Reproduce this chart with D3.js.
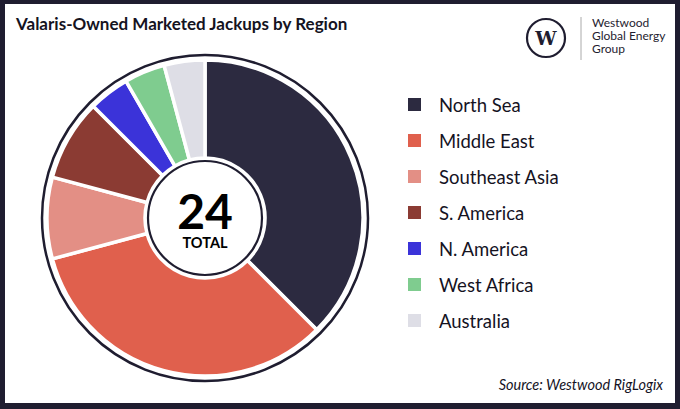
<!DOCTYPE html>
<html><head><meta charset="utf-8">
<script src="https://cdn.jsdelivr.net/npm/d3@7"></script>
<style>html,body{margin:0;padding:0;background:#fff;}svg{display:block;}</style>
</head><body>
<svg id="c" width="680" height="409"></svg>
<script>
const categories = ["North Sea","Middle East","Southeast Asia","S. America","N. America","West Africa","Australia"];
const values = [9, 8, 2, 2, 1, 1, 1];
const colors = ["#2c2a40","#e0604d","#e38f85","#8b3b33","#3b33d9","#7fcc8f","#dedee6"];
const totalLabel = "TOTAL";
const logoLines = ["Westwood","Global Energy","Group"];

const svg = d3.select("#c");
const W = 680, H = 409;
// frame
svg.append("rect").attr("x",0).attr("y",0).attr("width",W).attr("height",H).attr("fill","#1f1d30");
svg.append("rect").attr("x",5).attr("y",4).attr("width",670).attr("height",399).attr("fill","#fff");

svg.append("text").attr("x",16).attr("y",30).text("Valaris-Owned Marketed Jackups by Region")
  .attr("font-family","Lato").attr("font-weight","bold").attr("font-size",17).attr("fill","#15131f");

// logo
const lg = svg.append("g");
lg.append("circle").attr("cx",546).attr("cy",38).attr("r",19).attr("fill","none").attr("stroke","#1f1d30").attr("stroke-width",2.2);
lg.append("text").attr("x",546).attr("y",45).attr("text-anchor","middle").text("W")
  .attr("font-family","DejaVu Serif").attr("font-weight","bold").attr("font-size",19).attr("fill","#1f1d30");
lg.append("line").attr("x1",581).attr("x2",581).attr("y1",17).attr("y2",60).attr("stroke","#aaa").attr("stroke-width",1);
logoLines.forEach((t,i)=>{
  lg.append("text").attr("x",592).attr("y",27+i*13).text(t)
   .attr("font-family","Lato").attr("font-size",12).attr("fill","#1f1d30");
});

const cx = 205, cy = 218;
const g = svg.append("g").attr("transform",`translate(${cx},${cy})`);
g.append("circle").attr("r",163).attr("fill","none").attr("stroke","#1f1d30").attr("stroke-width",2.5);
const pie = d3.pie().sort(null).value(d=>d);
const arc = d3.arc().innerRadius(60).outerRadius(158);
g.selectAll("path.s").data(pie(values)).join("path").attr("class","s")
  .attr("d",arc).attr("fill",(d,i)=>colors[i]).attr("stroke","#fff").attr("stroke-width",3.5).attr("stroke-linejoin","round");
g.append("circle").attr("r",57).attr("fill","#fff").attr("stroke","#1f1d30").attr("stroke-width",2.2);
g.append("text").attr("y",11).attr("text-anchor","middle").text(d3.sum(values))
  .attr("font-family","Lato").attr("font-weight","bold").attr("font-size",48).attr("fill","#000");
g.append("text").attr("y",30).attr("text-anchor","middle").text(totalLabel)
  .attr("font-family","Lato").attr("font-weight","bold").attr("font-size",14.5).attr("fill","#000");

// legend
const y = d3.scalePoint().domain(categories).range([105,321]);
const leg = svg.append("g");
categories.forEach((c,i)=>{
  leg.append("rect").attr("x",408).attr("y",y(c)-7).attr("width",13).attr("height",13).attr("fill",colors[i]);
  leg.append("text").attr("x",439).attr("y",y(c)+6.5).text(c)
    .attr("font-family","Lato").attr("font-size",18.5).attr("fill","#15131f");
});

svg.append("text").attr("x",663).attr("y",390).attr("text-anchor","end").text("Source: Westwood RigLogix")
  .attr("font-family","Lato").attr("font-style","italic").attr("font-size",14.5).attr("fill","#15131f");
</script>
</body></html>
